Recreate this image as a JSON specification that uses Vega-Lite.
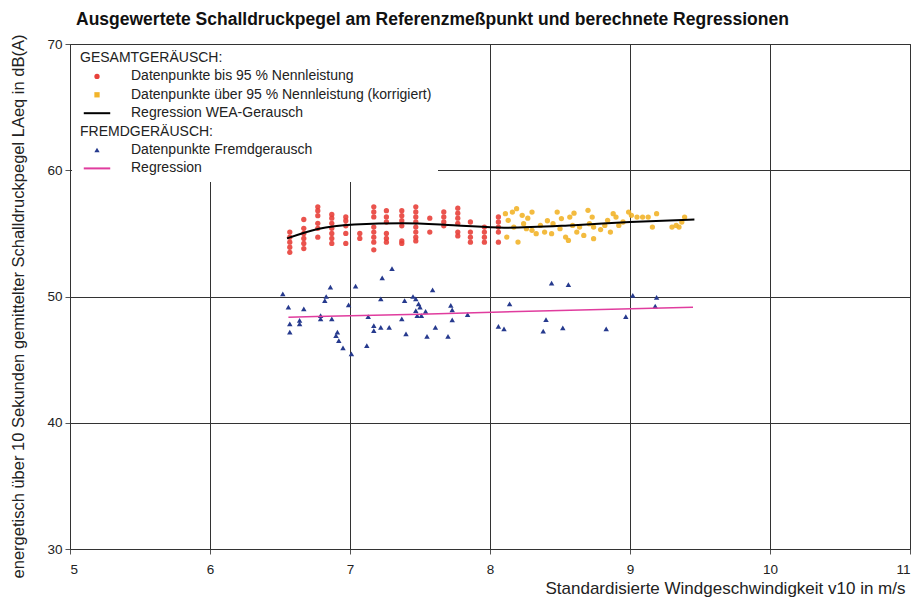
{
  "$schema": "https://vega.github.io/schema/vega-lite/v6.json",
  "width": 840,
  "height": 505,
  "autosize": "none",
  "padding": {"left": 70, "top": 44, "right": 9, "bottom": 55},
  "background": "white",
  "title": {"text": "Ausgewertete Schalldruckpegel am Referenzmeßpunkt und berechnete Regressionen", "anchor": "start", "frame": "group", "dx": 6, "offset": 6, "font": "Liberation Sans", "fontSize": 17.5, "fontWeight": "bold", "color": "#111"},
  "config": {
    "font": "Liberation Sans",
    "view": {"stroke": "#333", "strokeWidth": 1},
    "axis": {"gridColor": "#333", "gridWidth": 1, "gridOpacity": 1, "domainColor": "#333", "tickColor": "#555", "labelColor": "#222", "titleColor": "#222", "labelFont": "Liberation Sans", "titleFont": "Liberation Sans", "labelFontSize": 13.5, "titleFontWeight": "normal"},
    "legend": {"orient": "none", "legendX": 2, "legendY": 1, "direction": "vertical", "fillColor": "white", "padding": 6, "symbolOffset": 12, "symbolSize": 30, "labelOffset": 27, "labelFont": "Liberation Sans", "labelFontSize": 14, "labelColor": "#222", "labelLimit": 420, "rowPadding": 4.4}
  },
  "datasets": {
    "rot": [
      {"x": 6.57, "y": 55.1}, {"x": 6.57, "y": 54.7}, {"x": 6.57, "y": 54.3}, {"x": 6.57, "y": 53.9}, {"x": 6.57, "y": 53.5},
      {"x": 6.67, "y": 56.1}, {"x": 6.67, "y": 55.4}, {"x": 6.67, "y": 55.0}, {"x": 6.67, "y": 54.6}, {"x": 6.67, "y": 54.2}, {"x": 6.67, "y": 53.8},
      {"x": 6.77, "y": 57.1}, {"x": 6.77, "y": 56.8}, {"x": 6.77, "y": 56.4}, {"x": 6.77, "y": 55.8}, {"x": 6.77, "y": 55.4}, {"x": 6.77, "y": 54.7},
      {"x": 6.87, "y": 56.5}, {"x": 6.87, "y": 56.2}, {"x": 6.87, "y": 55.8}, {"x": 6.87, "y": 55.4}, {"x": 6.87, "y": 55.0}, {"x": 6.87, "y": 54.6}, {"x": 6.87, "y": 54.2},
      {"x": 6.97, "y": 56.3}, {"x": 6.97, "y": 56.0}, {"x": 6.97, "y": 55.6}, {"x": 6.97, "y": 55.0}, {"x": 6.97, "y": 54.2},
      {"x": 7.07, "y": 55.0}, {"x": 7.07, "y": 54.6},
      {"x": 7.17, "y": 57.1}, {"x": 7.17, "y": 56.7}, {"x": 7.17, "y": 56.3}, {"x": 7.17, "y": 55.5}, {"x": 7.17, "y": 55.1}, {"x": 7.17, "y": 54.7}, {"x": 7.17, "y": 54.3}, {"x": 7.17, "y": 53.7},
      {"x": 7.26, "y": 56.8}, {"x": 7.26, "y": 56.3}, {"x": 7.26, "y": 55.9}, {"x": 7.26, "y": 55.0}, {"x": 7.26, "y": 54.6}, {"x": 7.26, "y": 54.3},
      {"x": 7.37, "y": 56.8}, {"x": 7.37, "y": 56.4}, {"x": 7.37, "y": 56.0}, {"x": 7.37, "y": 55.6}, {"x": 7.37, "y": 54.4}, {"x": 7.37, "y": 54.2},
      {"x": 7.47, "y": 57.1}, {"x": 7.47, "y": 56.7}, {"x": 7.47, "y": 56.3}, {"x": 7.47, "y": 55.9}, {"x": 7.47, "y": 55.5}, {"x": 7.47, "y": 55.1}, {"x": 7.47, "y": 54.7}, {"x": 7.47, "y": 54.4},
      {"x": 7.57, "y": 56.2}, {"x": 7.57, "y": 55.1},
      {"x": 7.67, "y": 56.7}, {"x": 7.67, "y": 56.3}, {"x": 7.67, "y": 55.9}, {"x": 7.67, "y": 55.6},
      {"x": 7.77, "y": 57.0}, {"x": 7.77, "y": 56.6}, {"x": 7.77, "y": 56.2}, {"x": 7.77, "y": 55.8}, {"x": 7.77, "y": 55.1}, {"x": 7.77, "y": 54.8},
      {"x": 7.86, "y": 55.9}, {"x": 7.86, "y": 55.1}, {"x": 7.86, "y": 54.7}, {"x": 7.86, "y": 54.3},
      {"x": 7.96, "y": 55.5}, {"x": 7.96, "y": 55.1}, {"x": 7.96, "y": 54.7}, {"x": 7.96, "y": 54.3},
      {"x": 8.06, "y": 56.3}, {"x": 8.06, "y": 55.9}, {"x": 8.06, "y": 55.5}, {"x": 8.06, "y": 55.1}, {"x": 8.06, "y": 54.3}
    ],
    "gelb": [
      {"x": 8.11, "y": 56.56}, {"x": 8.13, "y": 56.03}, {"x": 8.16, "y": 56.69}, {"x": 8.17, "y": 55.5}, {"x": 8.19, "y": 56.96},
      {"x": 8.23, "y": 56.43}, {"x": 8.24, "y": 55.77}, {"x": 8.26, "y": 55.37}, {"x": 8.3, "y": 56.69}, {"x": 8.3, "y": 55.24},
      {"x": 8.36, "y": 55.63}, {"x": 8.39, "y": 55.1}, {"x": 8.44, "y": 54.98}, {"x": 8.48, "y": 56.69}, {"x": 8.5, "y": 55.37},
      {"x": 8.51, "y": 56.17}, {"x": 8.54, "y": 54.71}, {"x": 8.57, "y": 56.29}, {"x": 8.59, "y": 55.63}, {"x": 8.62, "y": 55.1},
      {"x": 8.64, "y": 55.5}, {"x": 8.67, "y": 54.84}, {"x": 8.7, "y": 56.83}, {"x": 8.71, "y": 55.77}, {"x": 8.74, "y": 54.58},
      {"x": 8.2, "y": 54.31}, {"x": 8.12, "y": 54.71}, {"x": 8.33, "y": 54.98}, {"x": 8.45, "y": 55.77}, {"x": 8.56, "y": 54.44},
      {"x": 8.73, "y": 56.29}, {"x": 8.74, "y": 55.5}, {"x": 8.82, "y": 55.63}, {"x": 8.84, "y": 56.03}, {"x": 8.86, "y": 55.1},
      {"x": 8.88, "y": 56.56}, {"x": 8.9, "y": 56.29}, {"x": 8.92, "y": 55.63}, {"x": 8.99, "y": 56.69}, {"x": 9.01, "y": 56.43},
      {"x": 9.05, "y": 56.29}, {"x": 9.09, "y": 56.29}, {"x": 9.13, "y": 56.29}, {"x": 9.16, "y": 55.5}, {"x": 9.19, "y": 56.56},
      {"x": 9.3, "y": 55.5}, {"x": 9.33, "y": 55.63}, {"x": 9.37, "y": 55.9}, {"x": 9.39, "y": 56.29}, {"x": 9.35, "y": 55.5},
      {"x": 8.27, "y": 56.2}, {"x": 8.41, "y": 56.0}, {"x": 8.6, "y": 56.6}, {"x": 8.79, "y": 55.3}, {"x": 8.95, "y": 55.9}
    ],
    "blau": [
      {"x": 6.52, "y": 50.21}, {"x": 6.56, "y": 49.15}, {"x": 6.57, "y": 47.83}, {"x": 6.57, "y": 47.17}, {"x": 6.64, "y": 48.1},
      {"x": 6.64, "y": 47.83}, {"x": 6.67, "y": 49.02}, {"x": 6.79, "y": 48.49}, {"x": 6.79, "y": 48.23}, {"x": 6.82, "y": 49.68},
      {"x": 6.83, "y": 50.0}, {"x": 6.86, "y": 50.74}, {"x": 6.87, "y": 48.23}, {"x": 6.9, "y": 46.9}, {"x": 6.91, "y": 47.17},
      {"x": 6.92, "y": 46.51}, {"x": 6.95, "y": 45.93}, {"x": 6.99, "y": 49.34}, {"x": 7.01, "y": 45.45}, {"x": 7.04, "y": 50.82},
      {"x": 7.13, "y": 48.41}, {"x": 7.12, "y": 46.11}, {"x": 7.17, "y": 47.7}, {"x": 7.17, "y": 47.3}, {"x": 7.23, "y": 51.48},
      {"x": 7.22, "y": 47.56}, {"x": 7.22, "y": 49.81}, {"x": 7.28, "y": 47.56}, {"x": 7.3, "y": 52.2}, {"x": 7.37, "y": 48.23},
      {"x": 7.39, "y": 49.68}, {"x": 7.4, "y": 47.04}, {"x": 7.45, "y": 50.0}, {"x": 7.47, "y": 49.81}, {"x": 7.49, "y": 49.42},
      {"x": 7.47, "y": 48.89}, {"x": 7.48, "y": 48.49}, {"x": 7.51, "y": 48.49}, {"x": 7.5, "y": 49.15}, {"x": 7.54, "y": 48.83},
      {"x": 7.55, "y": 46.85}, {"x": 7.59, "y": 50.53}, {"x": 7.61, "y": 47.56}, {"x": 7.7, "y": 46.85}, {"x": 7.72, "y": 49.29},
      {"x": 7.73, "y": 48.94}, {"x": 7.73, "y": 48.15}, {"x": 7.84, "y": 48.57}, {"x": 8.14, "y": 49.42}, {"x": 8.44, "y": 51.06},
      {"x": 8.56, "y": 50.95}, {"x": 8.06, "y": 47.64}, {"x": 8.1, "y": 47.43}, {"x": 8.4, "y": 48.17}, {"x": 8.38, "y": 47.25},
      {"x": 8.52, "y": 47.51}, {"x": 8.83, "y": 47.43}, {"x": 8.97, "y": 48.41}, {"x": 9.02, "y": 50.08}, {"x": 9.19, "y": 49.94},
      {"x": 9.18, "y": 49.23}
    ],
    "regWEA": [
      {"x": 6.55, "y": 54.6}, {"x": 6.77, "y": 55.35}, {"x": 7.03, "y": 55.7}, {"x": 7.38, "y": 55.8}, {"x": 7.74, "y": 55.65},
      {"x": 8.1, "y": 55.45}, {"x": 8.6, "y": 55.65}, {"x": 9.0, "y": 55.9}, {"x": 9.46, "y": 56.1}
    ],
    "regFremd": [
      {"x": 6.56, "y": 48.36}, {"x": 7.5, "y": 48.6}, {"x": 8.5, "y": 48.9}, {"x": 9.45, "y": 49.15}
    ]
  },
  "layer": [
    {
      "data": {"name": "rot"},
      "mark": {"type": "point", "filled": true, "shape": "circle", "size": 28, "opacity": 0.9},
      "encoding": {
        "x": {"field": "x", "type": "quantitative", "scale": {"domain": [5, 11], "nice": false},
          "axis": {"values": [5, 6, 7, 8, 9, 10, 11], "format": "d", "title": "Standardisierte Windgeschwindigkeit v10 in m/s", "titleFontSize": 17, "titleAnchor": "end", "titleAlign": "right", "titleX": 835, "titleY": 39, "titleBaseline": "middle", "tickSize": 5, "labelPadding": 8, "domain": true}},
        "y": {"field": "y", "type": "quantitative", "scale": {"domain": [30, 70], "nice": false},
          "axis": {"values": [30, 40, 50, 60, 70], "format": "d", "tickSize": 5, "labelPadding": 3, "title": "energetisch über 10 Sekunden gemittelter Schalldruckpegel LAeq in dB(A)", "titleFontSize": 16.5, "titleX": -52, "titleY": 262, "titleBaseline": "middle", "titleAlign": "center"}},
        "color": {"datum": "Datenpunkte bis 95 % Nennleistung", "type": "nominal",
          "scale": {"domain": ["GESAMTGERÄUSCH:", "Datenpunkte bis 95 % Nennleistung", "Datenpunkte über 95 % Nennleistung (korrigiert)", "Regression WEA-Gerausch", "FREMDGERÄUSCH:", "Datenpunkte Fremdgerausch", "Regression"],
                    "range": ["#ffffff", "#e8403a", "#f2b42a", "#000000", "#ffffff", "#263a8e", "#e03c9e"]},
          "legend": {"title": null, "encode": {
              "symbols": {"update": {
                "shape": {"signal": "datum.label === 'Regression' || datum.label === 'Regression WEA-Gerausch' ? 'stroke' : (datum.label === 'Datenpunkte über 95 % Nennleistung (korrigiert)' ? 'square' : (datum.label === 'Datenpunkte Fremdgerausch' ? 'triangle-up' : 'circle'))"},
                "size": {"signal": "datum.label === 'Regression' || datum.label === 'Regression WEA-Gerausch' ? 700 : 28"},
                "stroke": {"signal": "datum.label === 'Regression' ? '#e03c9e' : (datum.label === 'Regression WEA-Gerausch' ? '#000000' : 'transparent')"},
                "strokeWidth": {"signal": "datum.label === 'Regression' || datum.label === 'Regression WEA-Gerausch' ? 2 : 0"}
              }},
              "labels": {"update": {"dx": {"signal": "datum.label === 'GESAMTGERÄUSCH:' || datum.label === 'FREMDGERÄUSCH:' ? -51 : 0"}}}
            }}}
      }
    },
    {
      "data": {"name": "gelb"},
      "mark": {"type": "point", "filled": true, "shape": "circle", "size": 28, "opacity": 0.9},
      "encoding": {
        "x": {"field": "x", "type": "quantitative"},
        "y": {"field": "y", "type": "quantitative"},
        "color": {"datum": "Datenpunkte über 95 % Nennleistung (korrigiert)", "type": "nominal",
          "legend": {"title": null, "encode": {
              "symbols": {"update": {
                "shape": {"signal": "datum.label === 'Regression' || datum.label === 'Regression WEA-Gerausch' ? 'stroke' : (datum.label === 'Datenpunkte über 95 % Nennleistung (korrigiert)' ? 'square' : (datum.label === 'Datenpunkte Fremdgerausch' ? 'triangle-up' : 'circle'))"},
                "size": {"signal": "datum.label === 'Regression' || datum.label === 'Regression WEA-Gerausch' ? 700 : 28"},
                "stroke": {"signal": "datum.label === 'Regression' ? '#e03c9e' : (datum.label === 'Regression WEA-Gerausch' ? '#000000' : 'transparent')"},
                "strokeWidth": {"signal": "datum.label === 'Regression' || datum.label === 'Regression WEA-Gerausch' ? 2 : 0"}
              }},
              "labels": {"update": {"dx": {"signal": "datum.label === 'GESAMTGERÄUSCH:' || datum.label === 'FREMDGERÄUSCH:' ? -51 : 0"}}}
            }}}
      }
    },
    {
      "data": {"name": "blau"},
      "mark": {"type": "point", "filled": true, "shape": "triangle-up", "size": 30, "opacity": 1},
      "encoding": {
        "x": {"field": "x", "type": "quantitative"},
        "y": {"field": "y", "type": "quantitative"},
        "color": {"datum": "Datenpunkte Fremdgerausch", "type": "nominal",
          "legend": {"title": null, "encode": {
              "symbols": {"update": {
                "shape": {"signal": "datum.label === 'Regression' || datum.label === 'Regression WEA-Gerausch' ? 'stroke' : (datum.label === 'Datenpunkte über 95 % Nennleistung (korrigiert)' ? 'square' : (datum.label === 'Datenpunkte Fremdgerausch' ? 'triangle-up' : 'circle'))"},
                "size": {"signal": "datum.label === 'Regression' || datum.label === 'Regression WEA-Gerausch' ? 700 : 28"},
                "stroke": {"signal": "datum.label === 'Regression' ? '#e03c9e' : (datum.label === 'Regression WEA-Gerausch' ? '#000000' : 'transparent')"},
                "strokeWidth": {"signal": "datum.label === 'Regression' || datum.label === 'Regression WEA-Gerausch' ? 2 : 0"}
              }},
              "labels": {"update": {"dx": {"signal": "datum.label === 'GESAMTGERÄUSCH:' || datum.label === 'FREMDGERÄUSCH:' ? -51 : 0"}}}
            }}}
      }
    },
    {
      "data": {"name": "regWEA"},
      "mark": {"type": "line", "interpolate": "monotone", "strokeWidth": 2},
      "encoding": {
        "x": {"field": "x", "type": "quantitative"},
        "y": {"field": "y", "type": "quantitative"},
        "color": {"datum": "Regression WEA-Gerausch", "type": "nominal",
          "legend": {"title": null, "encode": {
              "symbols": {"update": {
                "shape": {"signal": "datum.label === 'Regression' || datum.label === 'Regression WEA-Gerausch' ? 'stroke' : (datum.label === 'Datenpunkte über 95 % Nennleistung (korrigiert)' ? 'square' : (datum.label === 'Datenpunkte Fremdgerausch' ? 'triangle-up' : 'circle'))"},
                "size": {"signal": "datum.label === 'Regression' || datum.label === 'Regression WEA-Gerausch' ? 700 : 28"},
                "stroke": {"signal": "datum.label === 'Regression' ? '#e03c9e' : (datum.label === 'Regression WEA-Gerausch' ? '#000000' : 'transparent')"},
                "strokeWidth": {"signal": "datum.label === 'Regression' || datum.label === 'Regression WEA-Gerausch' ? 2 : 0"}
              }},
              "labels": {"update": {"dx": {"signal": "datum.label === 'GESAMTGERÄUSCH:' || datum.label === 'FREMDGERÄUSCH:' ? -51 : 0"}}}
            }}}
      }
    },
    {
      "data": {"name": "regFremd"},
      "mark": {"type": "line", "interpolate": "monotone", "strokeWidth": 1.5},
      "encoding": {
        "x": {"field": "x", "type": "quantitative"},
        "y": {"field": "y", "type": "quantitative"},
        "color": {"datum": "Regression", "type": "nominal",
          "legend": {"title": null, "encode": {
              "symbols": {"update": {
                "shape": {"signal": "datum.label === 'Regression' || datum.label === 'Regression WEA-Gerausch' ? 'stroke' : (datum.label === 'Datenpunkte über 95 % Nennleistung (korrigiert)' ? 'square' : (datum.label === 'Datenpunkte Fremdgerausch' ? 'triangle-up' : 'circle'))"},
                "size": {"signal": "datum.label === 'Regression' || datum.label === 'Regression WEA-Gerausch' ? 700 : 28"},
                "stroke": {"signal": "datum.label === 'Regression' ? '#e03c9e' : (datum.label === 'Regression WEA-Gerausch' ? '#000000' : 'transparent')"},
                "strokeWidth": {"signal": "datum.label === 'Regression' || datum.label === 'Regression WEA-Gerausch' ? 2 : 0"}
              }},
              "labels": {"update": {"dx": {"signal": "datum.label === 'GESAMTGERÄUSCH:' || datum.label === 'FREMDGERÄUSCH:' ? -51 : 0"}}}
            }}}
      }
    }
  ]
}
